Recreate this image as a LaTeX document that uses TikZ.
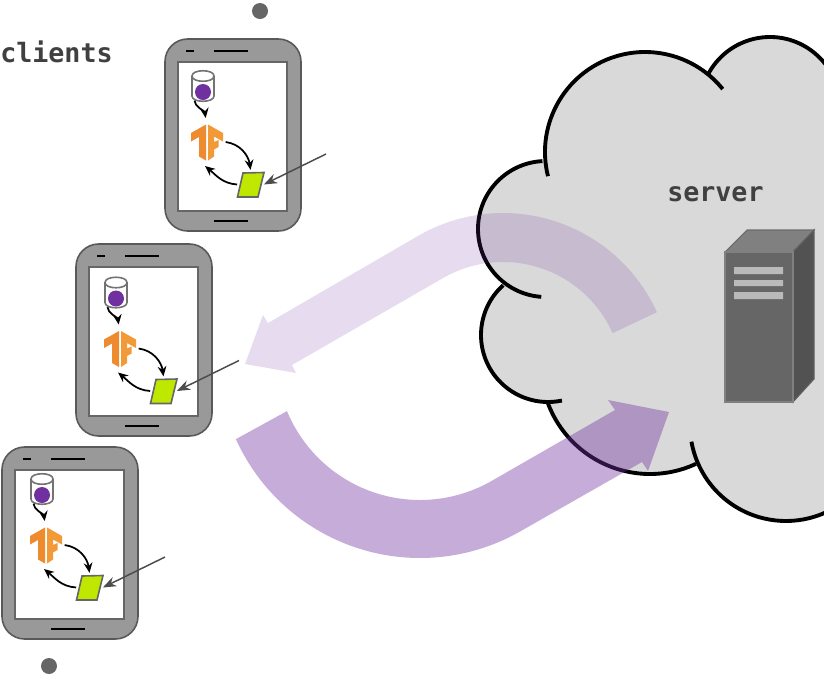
\documentclass[tikz,border=0pt]{standalone}
\usepackage{fontspec}
\setmonofont{DejaVu Sans Mono}
\usetikzlibrary{arrows.meta}
\definecolor{cloudgray}{HTML}{D9D9D9}
\definecolor{flow}{HTML}{7030A0}
\definecolor{phonegray}{HTML}{999999}
\definecolor{tforange}{HTML}{EE8B2E}
\definecolor{tflight}{HTML}{F39A38}
\definecolor{limefill}{HTML}{BFE800}
\tikzset{
  lobe/.style={draw=black,line width=2.9pt,line cap=butt},
  phonebody/.style={draw=black!65,fill=phonegray,line width=1.2pt,rounded corners=17pt},
  phonescreen/.style={draw=black!60,fill=white,line width=1.5pt},
  speaker/.style={draw=black,line width=1.1pt},
  lbl/.style={font=\ttfamily\bfseries\fontsize{20pt}{24pt}\selectfont,text=black!75,inner sep=0pt},
  blank/.style={inner sep=0pt,outer sep=0pt,minimum width=#1},
  flowarrow/.style={-{Stealth[length=7.5pt,width=6.5pt]},line width=1.3pt,black},
  pointer/.style={-{Stealth[length=10pt,width=7.5pt]},line width=1.1pt,black!70},
  tilebox/.style={draw=black!60,fill=limefill,line width=1.2pt},
  blackdot/.style={circle,fill=black!60,minimum size=12pt,inner sep=0pt}
}
\newcommand{\lobearc}[5]{\draw[lobe] ({#1+#3*cos(#4)},{#2+#3*sin(#4)}) arc[start angle=#4,end angle=#5,radius=#3];}
% name, body shift x, y, content shift x, y
\newcommand{\phone}[5]{%
 \begin{scope}[shift={(#2,#3)}]
  \draw[phonebody] (165,39) rectangle (301,231);
  \draw[phonescreen] (178,62) rectangle (287,211);
  \draw[speaker] (186,51) -- (194,51) (214,51) -- (248,51) (214,221) -- (248,221);
 \end{scope}
 \begin{scope}[shift={(#4,#5)}]
  % database
  \draw[draw=black!55,fill=white,line width=1.2pt] (192,76) -- (192,96) .. controls (192,103) and (214,103) .. (214,96) -- (214,76) .. controls (214,69) and (192,69) .. (192,76) .. controls (192,83) and (214,83) .. (214,76);
  \fill[flow] (203,92) circle[radius=8];
  \node[blank=22pt,minimum height=22pt] (#1db) at (203,86) {};
  % logo
  \fill[tforange] (206,124.5) -- (191,133) -- (191,141.5) -- (199,137) -- (199,156.5) -- (206,160.5) -- cycle;
  \fill[tflight] (208,124.5) -- (223,133) -- (223,141.5) -- (214,136.5) -- (214,142) -- (218.5,140) -- (218.5,147) -- (214,149.5) -- (214,156.5) -- (208,160.5) -- cycle;
  \node[blank=24pt,minimum height=28pt] (#1tf) at (207,142) {};
  % tile
  \draw[tilebox] (243,173) -- (264,172.5) -- (258,197) -- (237.5,197) -- cycle;
  \node[blank=20pt,minimum height=19pt] (#1ti) at (250.5,184.5) {};
  \draw[flowarrow] (#1db.240) .. controls +(0,6) and +(-1,-7) .. ([xshift=-1pt,yshift=4pt]#1tf.north);
  \draw[flowarrow] ([xshift=2pt]#1tf.east) .. controls +(15,2) and +(-2,-14) .. ([yshift=1.5pt]#1ti.north);
  \draw[flowarrow] (#1ti.west) .. controls +(-15,-1) and +(11,9) .. ([xshift=-1.5pt,yshift=-4pt]#1tf.south);
  \coordinate (#1free) at (326,154);
  \draw[pointer] (#1free) -- (#1ti.east);
 \end{scope}}
\begin{document}
\begin{tikzpicture}[x=0.75pt,y=-0.75pt]
\useasboundingbox (0,0) rectangle (824,676);
\begin{scope}
  \clip (0,0) rectangle (824,676);
  \fill[cloudgray] (645,152) circle[radius=100] (770,107) circle[radius=70]
    (546,229) circle[radius=68] (548,335) circle[radius=67]
    (650,365) circle[radius=109] (786,425) circle[radius=96];
  \fill[cloudgray] (705,73) -- (830,63) -- (830,512) -- (697,464) -- (546,403) -- (503,285) -- (545,161) -- cycle;
  \lobearc{645}{152}{100}{166}{321}
  \lobearc{770}{107}{70}{208}{330}
  \lobearc{546}{229}{68}{267}{94}
  \lobearc{548}{335}{67}{228}{78}
  \lobearc{650}{365}{109}{160}{65}
  \lobearc{786}{425}{96}{170}{55}
\end{scope}
% server
\fill[black!50,draw=black!58,line width=.8pt] (725,252) -- (747,230) -- (814,230) -- (793,252) -- cycle;
\fill[black!68,draw=black!62,line width=.8pt] (793,252) -- (814,230) -- (814,379) -- (793,402) -- cycle;
\fill[black!60,draw=black!50,line width=.8pt] (725,252) rectangle (793,402);
\fill[black!27] (734,267) rectangle (783,274) (734,280) rectangle (783,286) (734,292) rectangle (783,299);
\node[lbl,anchor=base west] (server) at (667,201) {server};
\node[lbl,anchor=base west] (clients) at (0,62) {clients};
% phones
\phone{a}{0}{0}{0}{0}
\phone{b}{-89}{205}{-87}{206.5}
\phone{c}{-163}{408}{-161}{403}
\node[blackdot] (top) at (260,11) {};
\node[blackdot] (bottom) at (49,666) {};
% flow arrows
\fill[flow,opacity=.17] ({503+169*cos(335.6)},{382+169*sin(335.6)}) arc[start angle=335.6,end angle=240,radius=169]
  -- (268,323) -- (263,315) -- (245,364) -- (296,373) -- (292,365) -- ({503+120*cos(240)},{382+120*sin(240)})
  arc[start angle=240,end angle=336,radius=120] -- cycle;
\fill[flow,opacity=.4] ({420+202*cos(155.7)},{356+202*sin(155.7)}) arc[start angle=155.7,end angle=60,radius=202]
  -- (642,462) -- (648,471) -- (669,412) -- (608,400) -- (615,410) -- ({420+144*cos(60)},{356+144*sin(60)})
  arc[start angle=60,end angle=157.5,radius=144] -- cycle;
\end{tikzpicture}
\end{document}
